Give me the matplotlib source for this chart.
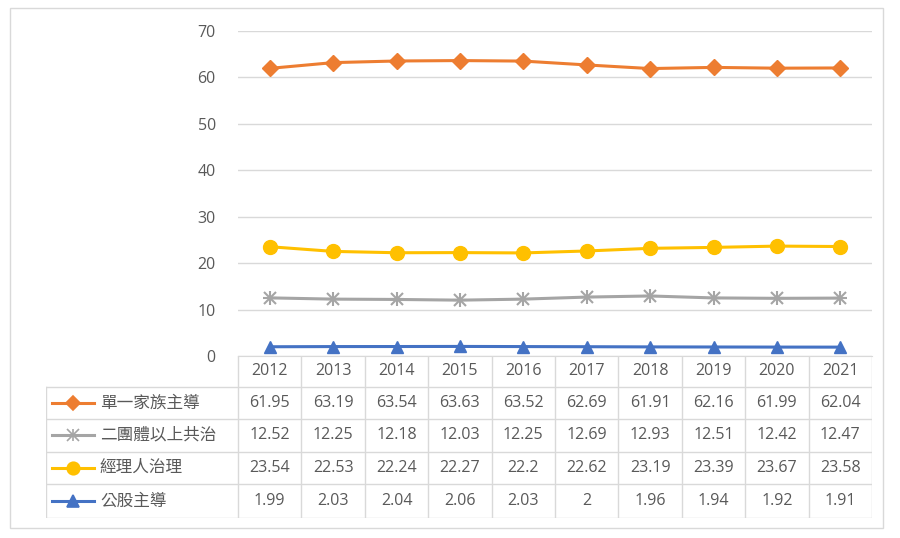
import matplotlib.pyplot as plt
from matplotlib.lines import Line2D
from matplotlib.patches import Rectangle

plt.rcParams['font.family'] = ['Open Sans', 'Noto Sans CJK TC', 'DejaVu Sans']

years = ['2012', '2013', '2014', '2015', '2016', '2017', '2018', '2019', '2020', '2021']
series_names = ['單一家族主導', '二團體以上共治', '經理人治理', '公股主導']
family = [61.95, 63.19, 63.54, 63.63, 63.52, 62.69, 61.91, 62.16, 61.99, 62.04]
joint = [12.52, 12.25, 12.18, 12.03, 12.25, 12.69, 12.93, 12.51, 12.42, 12.47]
manager = [23.54, 22.53, 22.24, 22.27, 22.2, 22.62, 23.19, 23.39, 23.67, 23.58]
public = [1.99, 2.03, 2.04, 2.06, 2.03, 2, 1.96, 1.94, 1.92, 1.91]
table_text = [['61.95', '63.19', '63.54', '63.63', '63.52', '62.69', '61.91', '62.16', '61.99', '62.04'],
              ['12.52', '12.25', '12.18', '12.03', '12.25', '12.69', '12.93', '12.51', '12.42', '12.47'],
              ['23.54', '22.53', '22.24', '22.27', '22.2', '22.62', '23.19', '23.39', '23.67', '23.58'],
              ['1.99', '2.03', '2.04', '2.06', '2.03', '2', '1.96', '1.94', '1.92', '1.91']]

colors = ['#ED7D31', '#A5A5A5', '#FFC000', '#4472C4']
markers = ['D', 'x', 'o', '^']
msizes = [8, 9, 10, 9]
text_col = '#595959'
grid_col = '#D9D9D9'

W, H = 900, 538
fig = plt.figure(figsize=(W / 100, H / 100), dpi=100)

def fx(px):
    return px / W

def fy(py):
    return 1 - py / H

# outer border
fig.patches.append(Rectangle((fx(10), fy(528)), fx(883) - fx(10), fy(8) - fy(528),
                             transform=fig.transFigure, fill=False, edgecolor='#D9D9D9', lw=1))

left, right, top, bottom = 238, 872, 31, 356
ax = fig.add_axes([fx(left), fy(bottom), fx(right) - fx(left), fy(top) - fy(bottom)])
xs = list(range(len(years)))
all_series = [family, joint, manager, public]
for vals, c, m, s in zip(all_series, colors, markers, msizes):
    mew = 1.5 if m == 'x' else 1
    ax.plot(xs, vals, color=c, lw=2.2, marker=m, markersize=s, markeredgewidth=mew, zorder=3)
    if m == 'x':
        ax.plot(xs, vals, color=c, lw=0, marker='+', markersize=s + 1, markeredgewidth=1.5, zorder=3)
ax.set_xlim(-0.5, len(years) - 0.5)
ax.set_ylim(0, 70)
ax.set_yticks(range(0, 71, 10))
ax.grid(axis='y', color=grid_col, lw=1)
ax.set_xticks([])
ax.tick_params(axis='y', length=0, labelsize=11.5, labelcolor=text_col, pad=16)
for sp in ax.spines.values():
    sp.set_visible(False)
ax.spines['bottom'].set_visible(True)
ax.spines['bottom'].set_color(grid_col)

# data table
tl, tt, tb = 46, 356, 518
tax = fig.add_axes([fx(tl), fy(tb), fx(right) - fx(tl), fy(tt) - fy(tb)])
col_w = (right - left) / len(years)
label_w = (left - tl) / col_w
tax.set_xlim(-label_w, len(years))
tax.set_ylim(5, 0)
tax.axis('off')
row_edges = [0, 0.95, 1.95, 2.95, 3.95, 5]
# vertical lines
for i in range(len(years) + 1):
    tax.plot([i, i], [0, 5], color=grid_col, lw=1)
tax.plot([-label_w, -label_w], [row_edges[1], 5], color=grid_col, lw=1)
for j, yv in enumerate(row_edges[1:]):
    tax.plot([-label_w, len(years)], [yv, yv], color=grid_col, lw=1)
for i, yr in enumerate(years):
    tax.text(i + 0.5, row_edges[0] / 2 + row_edges[1] / 2, yr, ha='center', va='center',
             fontsize=11.5, color=text_col)
for r in range(4):
    yc = (row_edges[r + 1] + row_edges[r + 2]) / 2
    for i, t in enumerate(table_text[r]):
        tax.text(i + 0.5, yc, t, ha='center', va='center', fontsize=11.5, color=text_col)
    x0 = -label_w + 0.1
    tax.add_line(Line2D([x0, x0 + 0.65], [yc, yc], color=colors[r], lw=2.2))
    tax.plot([x0 + 0.325], [yc], marker=markers[r], color=colors[r], markersize=msizes[r] - 1,
             markeredgewidth=1.2)
    if markers[r] == 'x':
        tax.plot([x0 + 0.325], [yc], marker='+', color=colors[r], markersize=msizes[r],
                 markeredgewidth=1.2)
    tax.text(x0 + 0.75, yc, series_names[r], ha='left', va='center', fontsize=12, color=text_col,
             family=['Noto Sans CJK TC', 'DejaVu Sans'])

fig.savefig('out.png', dpi=100)
